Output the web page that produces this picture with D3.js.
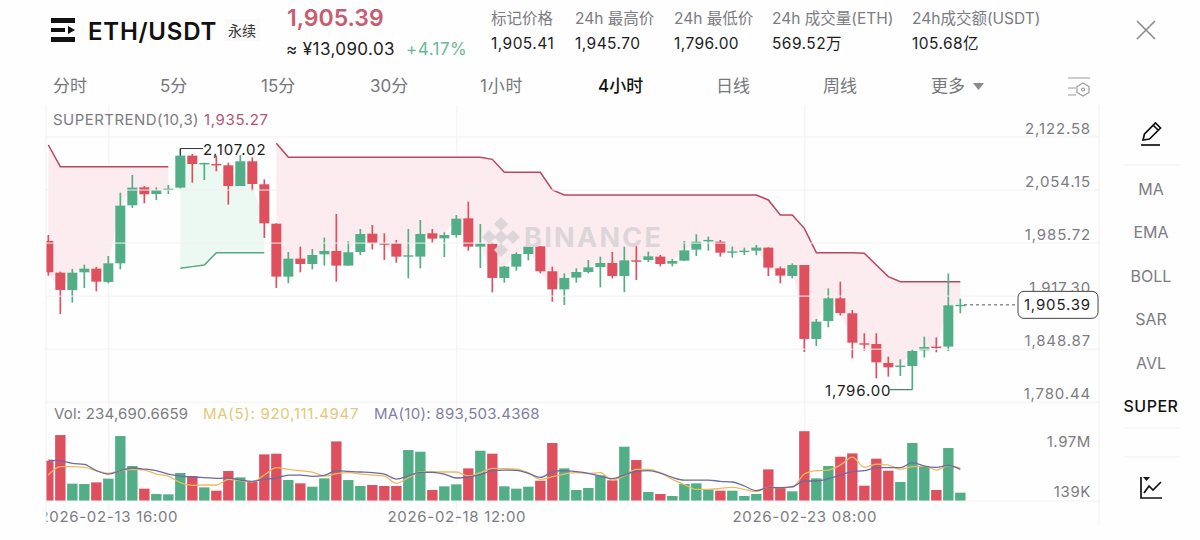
<!DOCTYPE html>
<html><head><meta charset="utf-8">
<script src="https://cdn.jsdelivr.net/npm/d3@7/dist/d3.min.js"></script>
<style>
html,body{margin:0;padding:0;background:#fefefe;}
svg{display:block;font-family:Inter,"Noto Sans CJK SC",sans-serif;}
</style></head><body><svg id="c" width="1200" height="540"></svg>
<script>
const open=[1987.8,1946.9,1924.6,1947.4,1952.1,1934.9,1959.0,2033.8,2057.0,2048.4,
2054.0,2056.6,2097.9,2087.1,2087.1,2085.4,2058.7,2090.6,2060.9,2010.1,
1941.8,1965.0,1958.1,1970.6,1974.9,1956.0,1973.6,1997.2,1984.8,1984.8,
1968.0,1967.6,1997.7,1991.2,1995.5,2017.0,1980.5,1984.3,1940.1,1954.7,
1971.0,1980.9,1948.7,1925.4,1940.5,1947.8,1954.2,1959.4,1942.6,1962.8,
1963.3,1967.6,1958.5,1962.4,1976.6,1987.8,1986.9,1973.2,1974.0,1975.3,
1979.2,1952.5,1942.6,1956.8,1861.4,1884.6,1913.8,1894.5,1855.8,1854.9,
1830.4,1825.7,1826.5,1846.7,1851.5,1851.5,1904.5];
const close=[1947.4,1924.6,1946.9,1952.1,1935.3,1959.0,2033.4,2056.6,2048.0,2053.6,
2055.3,2097.9,2087.1,2088.4,2085.8,2058.7,2090.6,2061.3,2010.6,1941.8,
1965.0,1958.1,1969.7,1974.9,1956.0,1973.2,1996.8,1985.2,1983.5,1967.6,
1969.3,1996.8,1990.8,1995.5,2016.6,1980.5,1984.3,1940.1,1954.7,1971.0,
1980.5,1948.7,1925.4,1940.1,1947.8,1953.8,1959.4,1942.6,1962.8,1961.1,
1968.0,1958.1,1962.0,1975.7,1986.9,1989.1,1972.7,1974.4,1975.3,1979.2,
1953.4,1943.1,1956.8,1861.4,1883.7,1913.8,1894.9,1856.6,1854.5,1831.3,
1824.8,1827.0,1845.9,1851.0,1850.2,1904.8,1905.39];
const high=[1995.5,1948.2,1951.7,1957.3,1954.2,1968.4,2050.1,2072.9,2058.7,2057.0,
2060.0,2107.02,2100.0,2088.8,2097.9,2088.8,2098.7,2095.7,2067.3,2010.6,
1973.6,1980.5,1977.5,1992.1,2022.6,1987.4,2003.3,2008.4,1997.7,1989.1,
2003.3,2014.9,2003.3,1999.0,2021.3,2038.5,2009.7,1985.6,1955.5,1973.2,
1987.8,1981.3,1954.7,1946.1,1952.5,1963.3,1967.6,1973.6,1980.5,1981.3,
1974.0,1969.7,1964.6,1987.8,1996.4,1993.4,1989.1,1980.5,1979.2,1982.6,
1979.6,1954.7,1959.0,1956.8,1887.2,1926.7,1935.3,1898.8,1868.7,1868.7,
1838.6,1835.1,1848.0,1864.4,1863.5,1945.7,1913.4];
const low=[1943.1,1893.6,1908.2,1927.2,1922.9,1933.2,1951.2,2030.4,2036.4,2040.7,
2048.4,2055.6,2063.0,2066.5,2077.7,2034.7,2058.7,2052.7,1991.7,1927.2,
1933.2,1947.4,1951.2,1956.0,1935.3,1956.0,1969.7,1977.0,1963.3,1959.8,
1939.6,1952.5,1985.6,1967.1,1992.1,1975.3,1953.0,1921.6,1934.0,1949.5,
1962.8,1946.1,1909.5,1905.2,1934.0,1946.1,1928.0,1939.6,1921.6,1937.5,
1960.7,1955.1,1955.1,1962.0,1968.4,1975.3,1967.6,1966.3,1969.7,1969.3,
1942.6,1933.2,1939.6,1844.6,1852.3,1876.4,1891.5,1836.4,1846.3,1810.6,
1812.8,1813.6,1796.0,1837.3,1844.2,1845.9,1894.5];
const superUpper=[2111.6,2083.7,2083.7,2083.7,2083.7,2083.7,2083.7,2083.7,2083.7,2083.7,
2083.7,null,null,null,null,null,null,null,null,2113.8,
2095.7,2095.7,2095.7,2095.7,2095.7,2095.7,2095.7,2095.7,2095.7,2095.7,
2095.7,2095.7,2095.7,2095.7,2095.7,2095.7,2095.7,2093.1,2076.4,2076.4,
2076.4,2076.4,2053.6,2047.1,2047.1,2047.1,2047.1,2047.1,2047.1,2047.1,
2047.1,2047.1,2047.1,2047.1,2047.1,2047.1,2047.1,2047.1,2047.1,2047.1,
2040.7,2021.3,2021.3,2004.1,1972.7,1972.7,1972.7,1972.7,1971.9,1956.8,
1941.8,1935.27,1935.27,1935.27,1935.27,1935.27,1935.27];
const superLower=[null,null,null,null,null,null,null,null,null,null,
null,1952.5,1954.7,1956.8,1972.7,1972.7,1972.7,1972.7,1972.7,null,
null,null,null,null,null,null,null,null,null,null,
null,null,null,null,null,null,null,null,null,null,
null,null,null,null,null,null,null,null,null,null,
null,null,null,null,null,null,null,null,null,null,
null,null,null,null,null,null,null,null,null,null,
null,null,null,null,null,null,null];
const volume=[1137000,1861000,489000,479000,526000,630000,1833000,987000,348000,197000,
188000,790000,705000,385000,291000,846000,667000,545000,1316000,1335000,
592000,498000,404000,639000,1683000,592000,423000,451000,423000,423000,
1438000,1391000,310000,414000,470000,921000,1419000,1335000,414000,348000,
404000,573000,1636000,921000,310000,367000,724000,583000,1532000,1156000,
254000,197000,141000,479000,498000,329000,291000,291000,141000,197000,
893000,376000,273000,1970000,639000,987000,1250000,1344000,432000,1194000,
855000,536000,1636000,968000,310000,1495000,234691];
const volMA5=[733,968,968,949,855,780,855,893,874,761,
705,517,442,451,451,611,573,536,733,940,
893,855,818,705,771,799,761,733,705,498,
658,818,827,818,818,705,799,921,912,902,
799,611,686,761,799,780,799,592,705,893,
893,799,611,461,329,329,357,385,329,263,
385,376,385,761,855,874,1015,1241,949,1043,
1015,893,968,987,874,996,920.11];
const volMA10=[1156,1137,1062,1034,855,761,855,931,902,855,
761,705,677,658,639,649,592,555,611,649,
733,733,696,724,855,837,818,799,761,620,
705,808,808,761,649,677,743,855,874,865,
780,667,818,855,827,780,705,630,733,846,
855,790,667,592,592,592,555,536,423,291,
376,376,404,564,564,630,733,827,855,940,
940,940,1081,987,949,1006,893.5];
const priceTicks=[2122.58,2054.15,1985.72,1917.30,1848.87,1780.44];
const timeTickIdx=[5,34,63];
const timeTickLabels=["2026-02-13 16:00","2026-02-18 12:00","2026-02-23 08:00"];
const volTickLabels=["1.97M","139K"];
const periods=["分时","5分","15分","30分","1小时","4小时","日线","周线","更多"];
const sideTabs=["MA","EMA","BOLL","SAR","AVL","SUPER"];
const statLabels=["标记价格","24h 最高价","24h 最低价","24h 成交量(ETH)","24h成交额(USDT)"];
const statValues=["1,905.41","1,945.70","1,796.00","569.52万","105.68亿"];

const RED="#DF505F",GREEN="#52AE86",GREY="#7c7c82",GRID="#f2f1f2";
const svg=d3.select("#c");
const idx=d3.range(close.length);
const x=d3.scaleLinear().domain([0,76]).range([48.33,960.33]);
const y=d3.scaleLinear().domain([1780.44,2122.58]).range([401.7,136.5]);
const yv=d3.scaleLinear().domain([0,1970000]).range([501,431.2]);
const yvk=d3.scaleLinear().domain([0,1970]).range([501,431.2]);
const col=i=>close[i]>=open[i]?GREEN:RED;

svg.append("rect").attr("width",1200).attr("height",540).attr("fill","#fefefe");
const defs=svg.append("defs");
defs.append("clipPath").attr("id","plot").append("rect").attr("x",46).attr("y",104).attr("width",1053).attr("height",425);

// frame + axes
const plot=svg.append("g").attr("clip-path","url(#plot)");
const xAxis=plot.append("g").attr("transform","translate(0,525)")
  .call(d3.axisBottom(x).tickValues(timeTickIdx).tickFormat((d,i)=>timeTickLabels[i]).tickSize(-420).tickPadding(0));
xAxis.select(".domain").remove();
xAxis.selectAll("line").attr("stroke",GRID);
xAxis.selectAll("text").attr("y",-3).attr("dy",0).attr("fill",GREY).attr("font-size",15).attr("letter-spacing",.7).attr("font-family","Inter");
[46,1099].forEach(v=>svg.append("line").attr("x1",v).attr("x2",v).attr("y1",105).attr("y2",525).attr("stroke",GRID));

const yAxis=svg.append("g").attr("transform","translate(1099,0)")
  .call(d3.axisLeft(y).tickValues(priceTicks).tickFormat(d3.format(",.2f")).tickSize(1053).tickPadding(0));
yAxis.select(".domain").remove();
yAxis.selectAll("line").attr("stroke",GRID);
yAxis.selectAll("text").attr("x",-8).attr("dy",-3.5).attr("text-anchor","end").attr("fill",GREY).attr("font-size",15).attr("letter-spacing",.85).attr("font-family","Inter");
svg.append("line").attr("x1",46).attr("x2",1099).attr("y1",yv(0)).attr("y2",yv(0)).attr("stroke",GRID);

// watermark
const wm=svg.append("g").attr("fill","#dcd5da");
[[501,224,5],[489,237,5],[513,237,5],[501,250,5]].forEach(d=>wm.append("rect").attr("x",d[0]-d[2]).attr("y",d[1]-d[2]).attr("width",d[2]*2).attr("height",d[2]*2).attr("transform",`rotate(45 ${d[0]} ${d[1]})`));
wm.append("rect").attr("x",496).attr("y",232).attr("width",10).attr("height",10).attr("transform","rotate(45 501 237)");
wm.append("text").attr("x",524).attr("y",247).attr("font-size",27).attr("font-weight",700).attr("letter-spacing",2.3).attr("font-family","Inter").text("BINANCE");

// supertrend fill
const areaGen=a=>d3.area().defined(i=>a[i]!=null).x(i=>x(i)).y0(i=>y(close[i])).y1(i=>y(a[i]));
const lineGen=a=>d3.line().defined(i=>a[i]!=null).x(i=>x(i)).y(i=>y(a[i]));
plot.append("path").attr("d",areaGen(superUpper)(idx)).attr("fill","#fdecef");
plot.append("path").attr("d",areaGen(superLower)(idx)).attr("fill","#ecf8f2");
plot.append("path").attr("d",lineGen(superUpper)(idx)).attr("fill","none").attr("stroke","#B9475F").attr("stroke-width",1.5);
plot.append("path").attr("d",lineGen(superLower)(idx)).attr("fill","none").attr("stroke","#52A882").attr("stroke-width",1.5);

// candles
plot.append("g").selectAll("line").data(idx).join("line")
  .attr("x1",x).attr("x2",x).attr("y1",i=>y(high[i])).attr("y2",i=>y(low[i]))
  .attr("stroke",col).attr("stroke-width",1.7);
plot.append("g").selectAll("rect").data(idx).join("rect")
  .attr("x",i=>x(i)-5).attr("width",10)
  .attr("y",i=>y(Math.max(open[i],close[i])))
  .attr("height",i=>Math.max(1.4,Math.abs(y(open[i])-y(close[i]))))
  .attr("fill",col);

// volume
plot.append("g").selectAll("rect").data(idx).join("rect")
  .attr("x",i=>x(i)-5.2).attr("width",10.4)
  .attr("y",i=>yv(volume[i])).attr("height",i=>yv(0)-yv(volume[i]))
  .attr("fill",col);
const maLine=a=>d3.line().x(i=>x(i)).y(i=>yvk(a[i])).curve(d3.curveMonotoneX);
plot.append("path").attr("d",maLine(volMA5)(idx)).attr("fill","none").attr("stroke","#EDBB5E").attr("stroke-width",1.3);
plot.append("path").attr("d",maLine(volMA10)(idx)).attr("fill","none").attr("stroke","#6C6A9E").attr("stroke-width",1.3);

// high/low markers
const hiI=high.indexOf(d3.max(high)),loI=low.indexOf(d3.min(low));
svg.append("path").attr("d",`M${x(hiI)},${y(open[hiI]>close[hiI]?open[hiI]:close[hiI])}V${y(high[hiI])}H203`).attr("fill","none").attr("stroke","#333").attr("stroke-width",1);
svg.append("path").attr("d",`M${x(loI)},${y(low[loI])}H890`).attr("fill","none").attr("stroke","#4a7f68").attr("stroke-width",1.2);
const T=(t,xp,yp,o={})=>svg.append("text").attr("x",xp).attr("y",yp).attr("dominant-baseline","central")
  .attr("text-anchor",o.a||"start").attr("font-size",o.s||15).attr("fill",o.c||GREY).attr("font-weight",o.w||400).attr("letter-spacing",o.l||0).text(t);
T(d3.format(",.2f")(high[hiI]),203,149,{c:"#1c1c1f",l:.85});
T(d3.format(",.2f")(low[loI]),825,390,{c:"#1c1c1f",l:.85});

// last price
const last=close[close.length-1];
svg.append("line").attr("x1",964).attr("x2",1018).attr("y1",y(last)).attr("y2",y(last)).attr("stroke","#555").attr("stroke-dasharray","3 3");
svg.append("rect").attr("x",1018).attr("y",y(last)-13.5).attr("width",80).attr("height",27).attr("rx",6).attr("fill","#fff").attr("stroke","#444");
T(d3.format(",.2f")(last),1091,y(last),{a:"end",c:"#1c1c1f",l:.85});

// vol ticks
T(volTickLabels[0],1091,441,{a:"end",l:.6});
T(volTickLabels[1],1091,491,{a:"end",l:.6});

// legends
T("SUPERTREND(10,3)",53,119,{l:.45});
T("1,935.27",204,119,{c:"#B5566F",l:.65});
T("Vol: 234,690.6659",54,413,{l:.2});
T("MA(5): 920,111.4947",203,413,{c:"#E4C878",l:.7});
T("MA(10): 893,503.4368",374,413,{c:"#7F7FA6",l:.3});

// header
svg.append("g").selectAll("rect").data([[51,18,24,5],[51,28,14,4],[51,37,24,5]]).join("rect")
  .attr("x",d=>d[0]).attr("y",d=>d[1]).attr("width",d=>d[2]).attr("height",d=>d[3]).attr("fill","#111");
svg.append("path").attr("d","M68,26l7,4l-7,4z").attr("fill","#111");
T("ETH/USDT",88,31,{s:24,c:"#111",w:600,l:.75});
svg.append("rect").attr("x",225).attr("y",19).attr("width",35).attr("height",22).attr("fill","#f9f9f9");
T("永续",228,30,{s:14,c:"#333"});
T("1,905.39",287,18,{s:23,c:"#CB5A6E",w:600});
T("≈ ¥13,090.03",286,49,{s:17,c:"#222",l:.4});
T("+4.17%",406,49,{s:17,c:"#6DB897",l:.5});
[491,575,674,772,912].forEach((xp,i)=>{
  T(statLabels[i],xp,18,{s:15.5});
  T(statValues[i],xp,43,{s:15.5,c:"#1c1c1f",l:.45});
});
svg.append("path").attr("d","M1137,21L1155,39M1155,21L1137,39").attr("stroke","#8a8a8a").attr("stroke-width",1.6).attr("fill","none");

// period tabs
[53,160,261,370,480,598,716,823,931].forEach((xp,i)=>{
  T(periods[i],xp,86,{s:17,c:i===5?"#111":"#77777d",w:i===5?500:400,l:i===4?.8:0});
});
svg.append("path").attr("d","M973,83h11l-5.5,7z").attr("fill","#8a8a8a");
const ic=svg.append("g").attr("fill","none").attr("stroke","#9a9a9a").attr("stroke-width",1.2);
ic.append("path").attr("d","M1068,78H1090M1068,88H1076M1068,95H1076");
ic.append("path").attr("d","M1083,83l6,3.5v6l-6,3.5l-6,-3.5v-6z");
ic.append("circle").attr("cx",1083).attr("cy",89.5).attr("r",1.5);

// right tools
[165,428,457].forEach(v=>svg.append("line").attr("x1",1124).attr("x2",1180).attr("y1",v).attr("y2",v).attr("stroke","#f0f0f0"));
[189,232,276,319,363,406].forEach((v,i)=>T(sideTabs[i],1151,v,{a:"middle",s:16,c:i===5?"#111":"#7c7c82",w:i===5?500:400,l:i===5?.5:0}));
const pen=svg.append("g").attr("fill","none").attr("stroke","#111").attr("stroke-width",1.7);
pen.append("path").attr("d","M1143,140l1.5,-6l11,-11l5,5l-11,11zM1153,125l5,5");
pen.append("path").attr("d","M1141,145H1160");
const chi=svg.append("g").attr("fill","none").attr("stroke","#111").attr("stroke-width",1.7);
chi.append("path").attr("d","M1141,477V498H1162");
chi.append("path").attr("d","M1144,493l5,-7l4,4l8,-8");
svg.append("path").attr("d","M1143,477h7l-3.5,4z").attr("fill","#111");
</script></body></html>
